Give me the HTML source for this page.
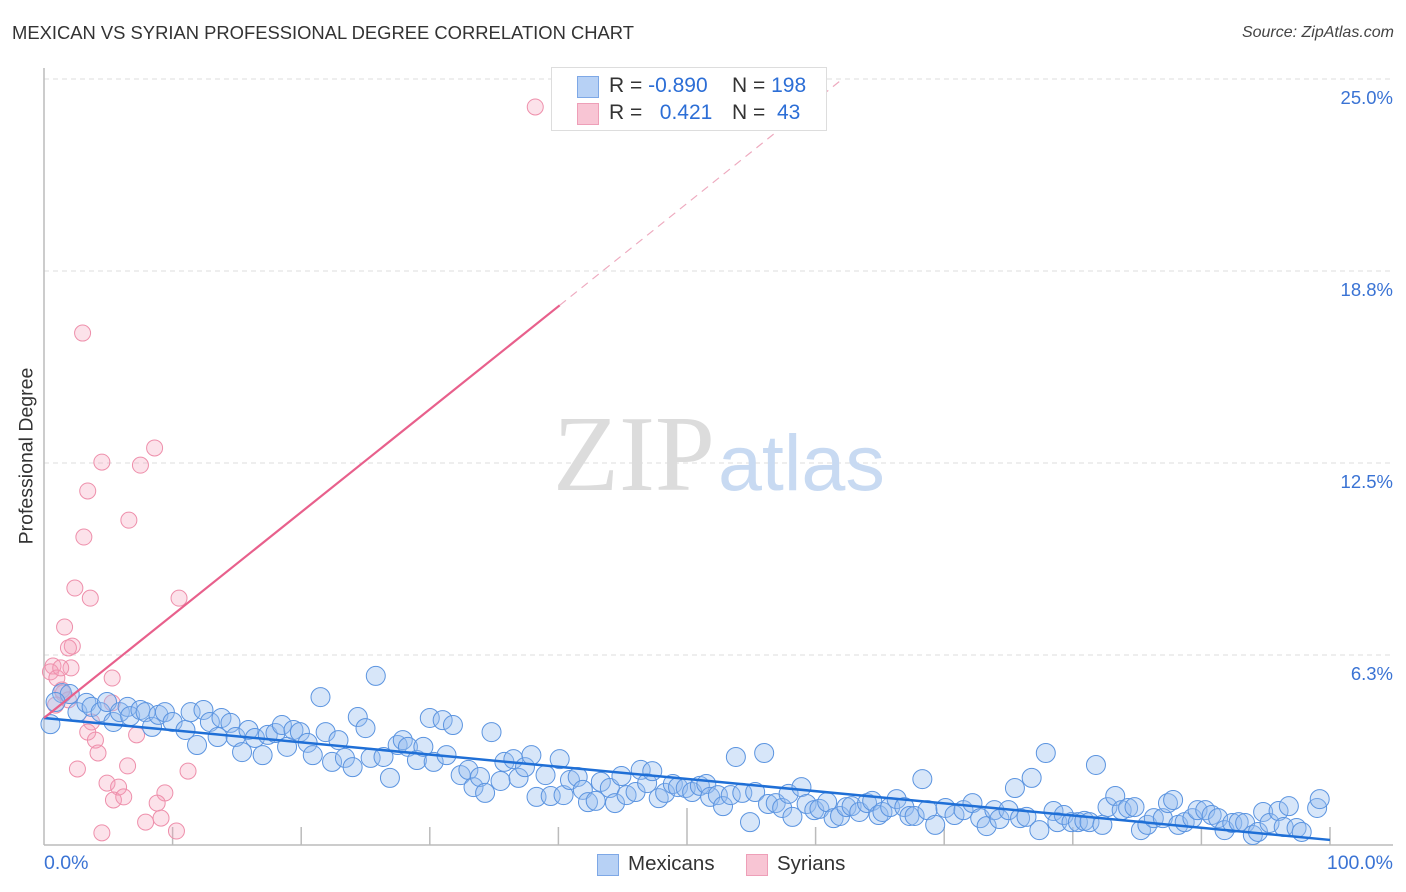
<!DOCTYPE html>
<html><head><meta charset="utf-8"><style>
body{margin:0;background:#fff;font-family:"Liberation Sans",sans-serif;}
#wrap{position:relative;width:1406px;height:892px;overflow:hidden;}
.t{position:absolute;white-space:nowrap;}
</style></head><body>
<div id="wrap">
<div class="t" style="left:12px;top:22px;font-size:18.4px;color:#333;">MEXICAN VS SYRIAN PROFESSIONAL DEGREE CORRELATION CHART</div>
<div class="t" style="right:12px;top:24px;font-size:16px;color:#444;font-style:italic;">Source: ZipAtlas.com</div>
<svg id="svg" width="1406" height="892" style="position:absolute;left:0;top:0"></svg>
</div>
<script>
const yTicks=[25.0,18.8,12.5,6.3];
const yTickVals=[25,18.75,12.5,6.25];
const mexX=[0.5,1.4,2.0,0.9,2.6,3.3,3.7,4.4,4.9,5.4,5.9,6.5,6.7,7.5,7.9,8.4,8.9,9.4,10.0,11.0,11.4,11.9,12.4,12.9,13.5,13.8,14.5,14.9,15.4,15.9,16.4,17.0,17.4,18.0,18.5,18.9,19.4,19.9,20.5,20.9,21.5,21.9,22.4,22.9,23.4,24.0,24.4,25.0,25.4,25.8,26.4,26.9,27.5,27.9,28.3,29.0,29.5,30.0,30.3,31.0,31.3,31.8,32.4,33.0,33.4,33.9,34.3,34.8,35.5,35.8,36.5,36.9,37.4,37.9,38.3,39.0,39.4,40.1,40.4,40.9,41.5,41.9,42.3,42.9,43.3,44.0,44.4,44.9,45.3,46.0,46.4,46.9,47.3,47.8,48.3,48.9,49.3,49.9,50.4,51.0,51.5,51.8,52.4,52.8,53.4,53.8,54.3,54.9,55.3,56.0,56.3,56.9,57.4,57.9,58.2,58.9,59.3,59.9,60.3,60.9,61.4,61.9,62.4,62.8,63.4,64.0,64.4,64.9,65.2,65.8,66.3,66.9,67.3,67.7,68.3,68.7,69.3,70.1,70.8,71.5,72.2,72.8,73.3,73.9,74.3,75.0,75.5,75.9,76.4,76.8,77.4,77.9,78.5,78.8,79.3,79.9,80.4,80.9,81.3,81.8,82.3,82.7,83.3,83.8,84.3,84.8,85.3,85.8,86.3,87.0,87.4,87.8,88.2,88.7,89.3,89.7,90.3,90.8,91.3,91.8,92.4,92.9,93.4,94.0,94.4,94.8,95.3,96.0,96.4,96.8,97.4,97.8,99.0,99.2];
const mexY=[4.00,5.01,4.98,4.72,4.39,4.69,4.56,4.39,4.72,4.07,4.39,4.56,4.26,4.46,4.39,3.91,4.30,4.39,4.07,3.81,4.39,3.32,4.46,4.07,3.58,4.20,4.04,3.58,3.09,3.81,3.55,2.99,3.65,3.71,3.97,3.26,3.81,3.74,3.39,2.99,4.88,3.74,2.77,3.48,2.90,2.60,4.23,3.87,2.90,5.57,2.93,2.25,3.32,3.48,3.26,2.83,3.26,4.20,2.77,4.13,2.99,3.97,2.34,2.51,1.95,2.28,1.76,3.74,2.15,2.77,2.86,2.25,2.60,2.99,1.63,2.34,1.66,2.86,1.69,2.18,2.28,1.86,1.46,1.50,2.12,1.92,1.43,2.31,1.69,1.79,2.51,2.08,2.47,1.59,1.76,2.05,1.95,1.92,1.79,1.99,2.05,1.63,1.69,1.33,1.69,2.93,1.76,0.81,1.79,3.06,1.40,1.43,1.27,1.73,0.98,1.95,1.40,1.20,1.24,1.46,0.94,1.01,1.30,1.33,1.14,1.43,1.50,1.04,1.14,1.30,1.56,1.30,1.01,1.01,2.21,1.20,0.72,1.27,1.04,1.20,1.43,0.94,0.68,1.20,0.91,1.20,1.92,0.94,0.98,2.25,0.55,3.06,1.17,0.81,1.04,0.81,0.81,0.85,0.81,2.67,0.72,1.30,1.66,1.20,1.27,1.30,0.55,0.72,0.94,0.94,1.43,1.53,0.72,0.81,0.94,1.20,1.20,1.04,0.94,0.55,0.78,0.81,0.78,0.39,0.49,1.14,0.78,1.17,0.65,1.33,0.62,0.49,1.27,1.56];
const syrX=[38.2,3.0,8.6,4.5,7.5,3.4,6.6,3.1,2.4,3.6,10.5,1.6,2.2,1.9,0.7,2.1,0.5,1.0,5.3,1.5,5.3,0.9,3.7,3.4,7.2,4.0,4.2,2.6,6.5,11.2,4.9,9.4,5.8,5.4,6.2,8.8,9.1,7.9,10.3,4.5,1.3,1.4,1.9];
const syrY=[24.09,16.73,12.99,12.53,12.43,11.59,10.64,10.09,8.43,8.10,8.10,7.16,6.54,6.48,5.89,5.83,5.70,5.50,5.50,5.01,4.69,4.62,4.07,3.74,3.65,3.48,3.06,2.54,2.64,2.47,2.08,1.76,1.95,1.53,1.63,1.43,0.94,0.81,0.52,0.46,5.83,5.11,4.79];
const mexTrend=[4.2,0.23];
const syrTrend=[4.2,0.335];
const X0=44,X1=1330,YB=847,PPY=30.72;
const sx=v=>X0+(X1-X0)*v/100;
const sy=v=>YB-v*PPY;
const svg=document.getElementById('svg');
const NS='http://www.w3.org/2000/svg';
function mk(tag,attrs,parent){const e=document.createElementNS(NS,tag);for(const k in attrs)e.setAttribute(k,attrs[k]);(parent||svg).appendChild(e);return e;}
yTickVals.forEach((v,i)=>{
  const g=mk('line',{x1:X0,x2:1393,y1:sy(v),y2:sy(v),stroke:'#ddd','stroke-dasharray':'5,4'});
  
  
  const t=mk('text',{x:1393,y:sy(v)+25,'text-anchor':'end','font-size':18.5,fill:'#3a73d4','font-family':'Liberation Sans, sans-serif'});
  t.textContent=yTicks[i].toFixed(1)+'%';
  
  
});
const wm=mk('text',{x:553,y:490,'font-size':108,fill:'#dcdcdc','font-family':'Liberation Serif, serif'});wm.textContent='ZIP';


const wm2=mk('text',{x:718,y:490,'font-size':79,fill:'#c8daf2','font-family':'Liberation Sans, sans-serif'});wm2.textContent='atlas';


const ax=mk('line',{x1:44,x2:44,y1:68,y2:845,stroke:'#bbb','stroke-width':1.5});


const bx=mk('line',{x1:44,x2:1393,y1:845,y2:845,stroke:'#bbb','stroke-width':1.5});


for(let i=1;i<=10;i++){
  const x=sx(i*10);
  const tk=mk('line',{x1:x,x2:x,y1:(i==5?808:827),y2:845,stroke:'#bbb','stroke-width':1.5});
  
  
}
syrX.forEach((v,i)=>{
  const c=mk('circle',{cx:sx(v),cy:sy(syrY[i]),r:8,fill:'rgba(245,160,185,0.3)',stroke:'#ee8fab','stroke-width':1});
  
  
});
mexX.forEach((v,i)=>{
  const c=mk('circle',{cx:sx(v),cy:sy(mexY[i]),r:9.5,fill:'rgba(150,190,240,0.38)',stroke:'#5b94e0','stroke-width':1});
  
  
});
const tm=mk('line',{x1:sx(0),y1:sy(mexTrend[0]),x2:sx(100),y2:sy(mexTrend[1]),stroke:'#1f6fd6','stroke-width':2.5});


const xs=40.1,xe=62;
const ts=mk('line',{x1:sx(0),y1:sy(syrTrend[0]),x2:sx(xs),y2:sy(syrTrend[0]+syrTrend[1]*xs),stroke:'#e8608c','stroke-width':2.2});


const td=mk('line',{x1:sx(xs),y1:sy(syrTrend[0]+syrTrend[1]*xs),x2:sx(xe),y2:sy(syrTrend[0]+syrTrend[1]*xe),stroke:'#eeaabf','stroke-width':1.2,'stroke-dasharray':'8,6'});


</script>
<div class="t" style="left:27px;top:456px;font-size:19.5px;color:#333;transform:translate(-50%,-50%) rotate(-90deg);">Professional Degree</div>
<div class="t" style="left:44px;top:852px;font-size:19.5px;color:#3a73d4;">0.0%</div>
<div class="t" style="right:13px;top:852px;font-size:19.5px;color:#3a73d4;">100.0%</div>
<div style="position:absolute;left:551px;top:67px;width:274px;height:62px;border:1px solid #ddd;background:#fff;font-size:21px;">
  <div style="position:absolute;left:25px;top:8px;width:20px;height:20px;background:#b7d1f5;border:1px solid #7ea8e6;"></div>
  <div class="t" style="left:57px;top:6px;color:#333;">R = <span style="color:#2c6ed6">-0.890</span></div>
  <div class="t" style="left:180px;top:6px;color:#333;">N = <span style="color:#2c6ed6">198</span></div>
  <div style="position:absolute;left:25px;top:35px;width:20px;height:20px;background:#f8c5d4;border:1px solid #ee9fb8;"></div>
  <div class="t" style="left:57px;top:33px;color:#333;">R = &nbsp;&nbsp;<span style="color:#2c6ed6">0.421</span></div>
  <div class="t" style="left:180px;top:33px;color:#333;">N = &nbsp;<span style="color:#2c6ed6">43</span></div>
</div>
<div style="position:absolute;left:597px;top:853px;">
  <div style="position:absolute;left:0;top:1px;width:20px;height:20px;background:#b7d1f5;border:1px solid #7ea8e6;"></div>
  <div class="t" style="left:31px;top:-1px;font-size:20.5px;color:#333;">Mexicans</div>
</div>
<div style="position:absolute;left:746px;top:853px;">
  <div style="position:absolute;left:0;top:1px;width:20px;height:20px;background:#f8c5d4;border:1px solid #ee9fb8;"></div>
  <div class="t" style="left:31px;top:-1px;font-size:20.5px;color:#333;">Syrians</div>
</div>
</body></html>
